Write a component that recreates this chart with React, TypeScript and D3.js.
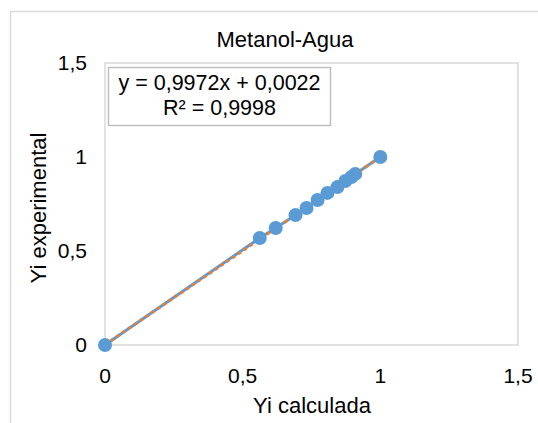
import React from "react";
import * as d3 from "d3";

const title = "Metanol-Agua";
const xTitle = "Yi calculada";
const yTitle = "Yi experimental";
const xValues = [0, 0.562, 0.62, 0.692, 0.732, 0.772, 0.808, 0.844, 0.873, 0.895, 0.909, 1.0];
const yValues = [0, 0.569, 0.622, 0.691, 0.729, 0.771, 0.809, 0.84, 0.872, 0.894, 0.91, 1.0];
const ticks = [0, 0.5, 1, 1.5];
const slope = 0.9972;
const intercept = 0.0022;
const eqLines = ["y = 0,9972x + 0,0022", "R² = 0,9998"];

const fmt = (v: number) => String(v).replace(".", ",");

export default function App() {
  const W = 538, H = 423;
  const left = 105, right = 518, top = 63, bottom = 345;
  const x = d3.scaleLinear().domain([0, 1.5]).range([left, right]);
  const y = d3.scaleLinear().domain([0, 1.5]).range([bottom, top]);
  const pts = xValues.map((v, i) => [v, yValues[i]] as [number, number]);
  const line = d3.line<[number, number]>().x(d => x(d[0])).y(d => y(d[1]));
  const xMin = d3.min(xValues)!, xMax = d3.max(xValues)!;
  const trend: [number, number][] = [[xMin, slope * xMin + intercept], [xMax, slope * xMax + intercept]];
  const font = "'Liberation Sans', Arial, sans-serif";
  return (
    <svg width={W} height={H} style={{ position: "absolute", left: 0, top: 0 }} fontFamily={font}>
      <rect x={0} y={0} width={W} height={H} fill="#fff" />
      <rect x={10.5} y={11.5} width={700} height={700} fill="none" stroke="#d9d9d9" strokeWidth={1.5} />
      <text x={285} y={47} textAnchor="middle" fontSize={22} fill="#000">{title}</text>
      <rect x={left} y={top} width={right - left} height={bottom - top} fill="none" stroke="#d9d9d9" strokeWidth={1.5} />
      {ticks.map(t => (
        <text key={"y" + t} x={87} y={y(t) + 7} textAnchor="end" fontSize={21} fill="#000">{fmt(t)}</text>
      ))}
      {ticks.map(t => (
        <text key={"x" + t} x={x(t)} y={383} textAnchor="middle" fontSize={21} fill="#000">{fmt(t)}</text>
      ))}
      <path d={line(pts)!} fill="none" stroke="#5B9BD5" strokeWidth={3} />
      <path d={line(trend)!} fill="none" stroke="#ED7D31" strokeWidth={3} strokeDasharray="3.5 3.5" />
      {pts.map((d, i) => (
        <circle key={i} cx={x(d[0])} cy={y(d[1])} r={7} fill="#5B9BD5" />
      ))}
      <rect x={108.5} y={67.5} width={222} height={58} fill="#fff" stroke="#bfbfbf" strokeWidth={1.5} />
      <text x={219.5} y={90} textAnchor="middle" fontSize={21.5} fill="#000">{eqLines[0]}</text>
      <text x={219.5} y={115} textAnchor="middle" fontSize={21.5} fill="#000">{eqLines[1]}</text>
      <text x={312} y={413} textAnchor="middle" fontSize={22} fill="#000">{xTitle}</text>
      <text transform={`translate(46,208) rotate(-90)`} textAnchor="middle" fontSize={22} fill="#000">{yTitle}</text>
    </svg>
  );
}
